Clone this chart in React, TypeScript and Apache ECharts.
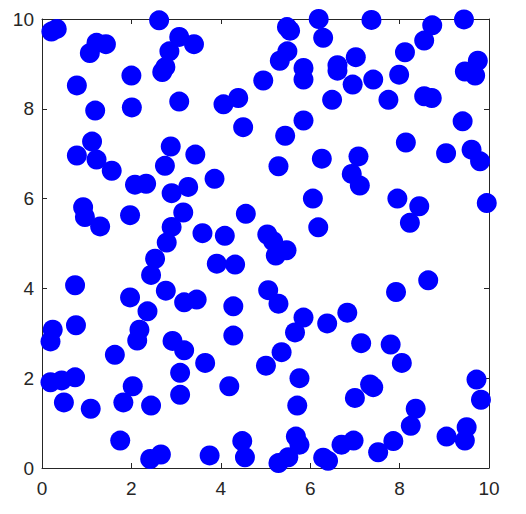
import React, { useEffect, useRef } from "react";
import * as echarts from "echarts";

const xTicks = [0, 2, 4, 6, 8, 10];
const yTicks = [0, 2, 4, 6, 8, 10];

const xs = [
  0.21, 0.33, 2.62, 1.22, 1.43, 1.07, 3.07, 3.4, 2.85, 2.69, 2.76, 2.0, 0.78, 1.19, 2.01, 3.07, 4.06, 4.39, 4.5, 4.95,
  1.12, 0.78, 1.22, 1.56, 2.88, 3.43, 2.75, 5.48, 5.55, 6.19, 6.29, 7.37, 8.73, 8.55, 9.44, 5.49, 5.32, 5.85, 5.85,
  6.61, 6.61, 7.02, 6.95, 7.41, 6.49, 7.75, 7.99, 8.12, 8.55, 8.72, 9.75, 9.46, 9.69, 5.85, 5.44, 9.41, 8.14, 9.04,
  9.61, 9.8, 6.26, 7.08, 6.93, 7.11, 5.29, 6.06, 7.95, 8.44, 8.23, 9.95, 6.18, 5.04, 5.17, 5.47, 5.23, 8.64, 7.92,
  5.06, 5.29, 5.85, 6.38, 6.83, 5.66, 5.36, 5.01, 7.14, 7.8, 8.05, 5.76, 7.34, 7.41, 7.0, 9.72, 9.82, 5.71, 8.36,
  8.25, 9.5, 9.05, 9.46, 5.68, 5.76, 5.51, 5.29, 6.29, 6.4, 6.7, 6.97, 7.52, 7.86, 1.75, 2.42, 2.66, 3.75, 4.48,
  4.54, 0.24, 0.19, 0.76, 2.18, 2.13, 2.92, 3.18, 4.28, 1.63, 3.65, 0.19, 0.44, 0.74, 3.09, 3.09, 2.03, 1.82, 2.44,
  0.49, 1.09, 4.19, 2.08, 2.33, 2.9, 3.27, 3.86, 0.92, 0.96, 1.3, 1.97, 3.16, 2.9, 2.79, 2.53, 2.44, 3.59, 4.09,
  4.56, 3.91, 4.32, 0.74, 1.97, 2.77, 3.18, 3.46, 2.36, 4.28,
];

const ys = [
  9.72, 9.78, 9.97, 9.47, 9.44, 9.24, 9.6, 9.44, 9.28, 8.82, 8.93, 8.74, 8.52, 7.96, 8.03, 8.16, 8.1, 8.24, 7.59, 8.63,
  7.27, 6.96, 6.87, 6.62, 7.16, 6.98, 6.73, 9.82, 9.74, 10.0, 9.58, 9.98, 9.86, 9.52, 9.99, 9.28, 9.07, 8.91, 8.65,
  8.97, 8.85, 9.15, 8.54, 8.65, 8.2, 8.2, 8.76, 9.26, 8.28, 8.24, 9.07, 8.83, 8.74, 7.74, 7.4, 7.72, 7.25, 7.01,
  7.09, 6.83, 6.89, 6.94, 6.55, 6.29, 6.72, 6.0, 6.0, 5.83, 5.46, 5.9, 5.36, 5.2, 5.05, 4.85, 4.73, 4.18, 3.92,
  3.96, 3.66, 3.35, 3.22, 3.46, 3.02, 2.58, 2.28, 2.78, 2.75, 2.34, 2.0, 1.86, 1.8, 1.56, 1.97, 1.52, 1.39, 1.32,
  0.94, 0.91, 0.7, 0.61, 0.7, 0.52, 0.24, 0.11, 0.23, 0.16, 0.52, 0.61, 0.35, 0.6, 0.61, 0.2, 0.3, 0.28, 0.6,
  0.24, 3.08, 2.82, 3.18, 3.08, 2.84, 2.83, 2.62, 2.95, 2.52, 2.34, 1.91, 1.95, 2.02, 2.12, 1.63, 1.82, 1.46, 1.39,
  1.46, 1.32, 1.82, 6.31, 6.33, 6.12, 6.26, 6.44, 5.81, 5.59, 5.38, 5.63, 5.69, 5.37, 5.02, 4.66, 4.3, 5.23, 5.17,
  5.66, 4.55, 4.53, 4.07, 3.8, 3.95, 3.69, 3.75, 3.49, 3.6,
];

export default function App() {
  const ref = useRef<HTMLDivElement>(null);
  useEffect(() => {
    if (!ref.current) return;
    const chart = echarts.init(ref.current, null, { renderer: "svg" });
    const axisColor = "#262626";
    const font = "'Liberation Sans', Arial, Helvetica, sans-serif";
    const n = Math.min(xs.length, ys.length);
    const data: number[][] = [];
    for (let i = 0; i < n; i++) data.push([xs[i], ys[i]]);
    const common = {
      min: xTicks[0],
      max: xTicks[xTicks.length - 1],
      interval: 2,
      splitLine: { show: false },
      axisLine: { show: true, onZero: false, lineStyle: { color: axisColor, width: 1 } },
      axisTick: { show: true, inside: true, length: 5, lineStyle: { color: axisColor } },
    };
    chart.setOption({
      animation: false,
      backgroundColor: "#ffffff",
      grid: { left: 42, right: 37, top: 19, bottom: 46, containLabel: false },
      xAxis: [
        {
          type: "value",
          position: "bottom",
          ...common,
          axisLabel: { show: true, fontSize: 19, color: axisColor, fontFamily: font, margin: 11 },
        },
        { type: "value", position: "top", ...common, axisLabel: { show: false } },
      ],
      yAxis: [
        {
          type: "value",
          position: "left",
          ...common,
          min: yTicks[0],
          max: yTicks[yTicks.length - 1],
          axisLabel: { show: true, fontSize: 19, color: axisColor, fontFamily: font, margin: 8 },
        },
        {
          type: "value",
          position: "right",
          ...common,
          min: yTicks[0],
          max: yTicks[yTicks.length - 1],
          axisLabel: { show: false },
        },
      ],
      series: [
        {
          type: "scatter",
          xAxisIndex: 0,
          yAxisIndex: 0,
          data,
          symbol: "circle",
          symbolSize: 20,
          clip: false,
          itemStyle: { color: "#0000ff", opacity: 1 },
        },
      ],
    });
    return () => chart.dispose();
  }, []);
  return (
    <div
      ref={ref}
      style={{ position: "fixed", left: 0, top: 0, width: 526, height: 514, background: "#fff" }}
    />
  );
}
